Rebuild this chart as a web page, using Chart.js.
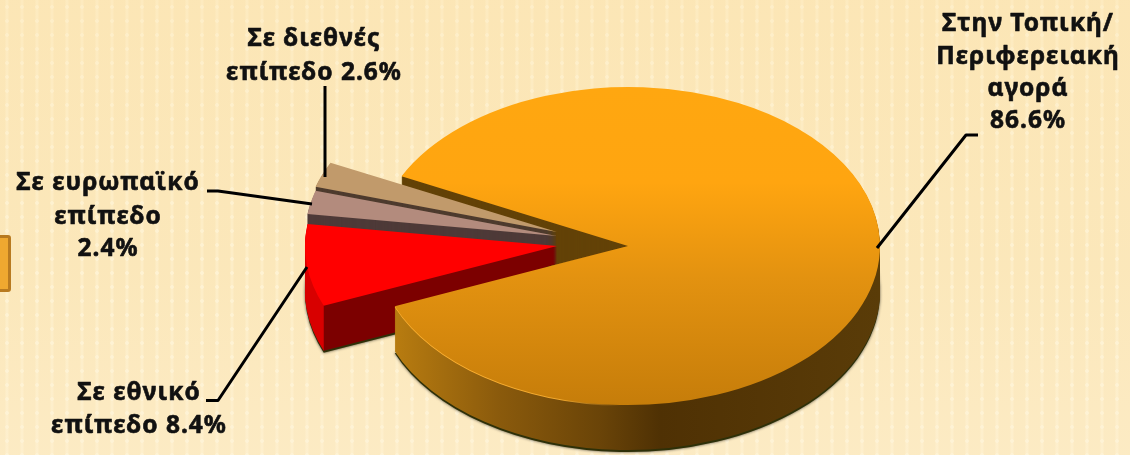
<!DOCTYPE html>
<html lang="el">
<head>
<meta charset="utf-8">
<title>Αγορές</title>
<script src="https://cdn.jsdelivr.net/npm/chart.js@4/dist/chart.umd.min.js"></script>
<style>
html,body{margin:0;padding:0;width:1130px;height:455px;overflow:hidden;}
body{
  position:relative;
  background-color:#FBE8BC;
  background-image:
    linear-gradient(180deg,rgba(253,226,170,.35) 0%,rgba(253,226,170,.1) 60%,rgba(255,240,210,.35) 100%),
    radial-gradient(circle at 7px 7px,rgba(255,248,225,.6) 0 1.5px,rgba(255,248,225,0) 2.2px),
    linear-gradient(90deg,rgba(255,244,215,0) 0 5px,rgba(255,244,215,.5) 6px 8px,rgba(255,244,215,0) 9px 15px);
  background-size:100% 100%,15px 14px,15px 14px;
}
#tab{position:absolute;left:-3px;top:235px;width:8px;height:51px;background:#EFA830;border:3px solid #B87A20;border-radius:3px;}
canvas{position:absolute;left:0;top:0;}
</style>
</head>
<body>
<div id="tab"></div>
<canvas id="c" width="1130" height="455"></canvas>
<script>
const categories = ['Στην Τοπική/Περιφερειακή αγορά','Σε εθνικό επίπεδο','Σε ευρωπαϊκό επίπεδο','Σε διεθνές επίπεδο'];
const values = [86.6, 8.4, 2.4, 2.6];
const faceColors = ['#FFA710', '#FF0000', '#B38B7D', '#C19A6B'];
const wallColors = ['#634207', '#7C0000', '#4E3A38', '#4E3B2E'];
const labelLines = [
  ['Στην Τοπική/', 'Περιφερειακή', 'αγορά', '86.6%'],
  ['Σε εθνικό', 'επίπεδο 8.4%'],
  ['Σε ευρωπαϊκό', 'επίπεδο', '2.4%'],
  ['Σε διεθνές', 'επίπεδο 2.6%']
];

// Projection of the flat pie into the tilted, exploded view.
const RX = [252, 252, 252, 252];
const RY = [159, 158, 158, 158];
const CX = [628, 557, 557, 557];
const CY = [246, 246, 236, 232];
const DEPTH = 45;
const labelPos = [
  {x:1028, ys:[31,64,96,128]},
  {x:139,  ys:[400,433]},
  {x:108,  ys:[190,224,256]},
  {x:314,  ys:[46,80]}
];
const leaders = [
  [[877,248],[966,135],[978,135]],
  [[206,400.5],[218,400.5],[307,267]],
  [[207,191],[218,191],[312,204]],
  [[325,86],[325,177]]
];

function paint(ctx, arc, i, dy, color) {
  const R = arc.outerRadius;
  ctx.save();
  ctx.translate(CX[i], CY[i] + dy);
  ctx.scale(RX[i] / R, RY[i] / R);
  ctx.translate(-arc.x, -arc.y);
  const ghost = Object.create(arc);
  ghost.options = Object.assign({}, arc.options, {backgroundColor: color, borderColor: color, borderWidth: 0, offset: 0, spacing: 0});
  Chart.ArcElement.prototype.draw.call(ghost, ctx);
  ctx.restore();
}
function xGradient(ctx, arc, i, stops) {
  const R = arc.outerRadius, g = ctx.createLinearGradient(arc.x - R, 0, arc.x + R, 0);
  const left = CX[i] - RX[i], w = 2 * RX[i];
  stops.forEach(s => g.addColorStop(Math.min(1, Math.max(0, (s[0] - left) / w)), s[1]));
  return g;
}
function clipPoly(ctx, pts) {
  ctx.beginPath();
  pts.forEach((p, k) => k ? ctx.lineTo(p[0], p[1]) : ctx.moveTo(p[0], p[1]));
  ctx.closePath();
  ctx.clip();
}

const pie3d = {
  id: 'pie3d',
  beforeDatasetsDraw(chart) {
    const ctx = chart.ctx, arcs = chart.getDatasetMeta(0).data;
    const big = arcs[0], R = big.outerRadius;
    // lower cut edge of the large slice, extended to the left border
    const a = big.endAngle, tip = [CX[0], CY[0]];
    const edge = [tip[0] + RX[0] * Math.cos(a), tip[1] + RY[0] * Math.sin(a)];
    const slope = (edge[1] - tip[1]) / (edge[0] - tip[0]);
    const far = [0, tip[1] - slope * tip[0]];

    // inner wall of the large slice (behind the small ones)
    ctx.save();
    clipPoly(ctx, [tip, far, [0, 0], [tip[0], 0]]);
    for (let d = DEPTH; d > 0; d--) paint(ctx, big, 0, d, wallColors[0]);
    ctx.restore();

    // small slices, back to front
    [3, 2, 1].forEach(i => {
      const arc = arcs[i];
      let wall = wallColors[i];
      if (i === 1) {
        const cornerX = CX[1] + RX[1] * Math.cos(arc.startAngle);
        wall = xGradient(ctx, arc, 1, [[cornerX - 0.5, '#D80000'], [cornerX + 0.5, wallColors[1]]]);
        ctx.save();
        ctx.shadowColor = 'rgba(0,0,0,.7)';
        ctx.shadowBlur = 3;
        paint(ctx, arc, i, DEPTH + 2, '#2E3008');
        ctx.restore();
      }
      for (let d = DEPTH; d > 0; d--) paint(ctx, arc, i, d, wall);
      paint(ctx, arc, i, 0, faceColors[i]);
    });

    // outer wall of the large slice
    const sideFill = xGradient(ctx, big, 0, [[395,'#B87C10'],[500,'#8A5A0C'],[600,'#6A4408'],[660,'#4F3104'],[880,'#5A3C08']]);
    ctx.save();
    clipPoly(ctx, [tip, far, [0, 455], [1130, 455], [1130, 0], [tip[0], 0]]);
    ctx.save();
    ctx.shadowColor = 'rgba(0,0,0,.7)';
    ctx.shadowBlur = 3;
    paint(ctx, big, 0, DEPTH + 2, '#2E3008');
    ctx.restore();
    for (let d = DEPTH; d > 0; d--) paint(ctx, big, 0, d, sideFill);
    // light rim along the front-left edge
    paint(ctx, big, 0, 1, xGradient(ctx, big, 0, [[395,'rgba(255,178,50,1)'],[560,'rgba(255,178,50,.9)'],[620,'rgba(255,178,50,0)']]));
    ctx.restore();

    // top face of the large slice
    const g = ctx.createLinearGradient(0, big.y - R, 0, big.y + R);
    g.addColorStop(0, '#FFA710');
    g.addColorStop(0.3, '#FFA510');
    g.addColorStop(0.6, '#E39210');
    g.addColorStop(1, '#C67D0A');
    paint(ctx, big, 0, 0, g);
    return false;
  },
  afterDraw(chart) {
    const ctx = chart.ctx;
    ctx.save();
    ctx.strokeStyle = '#000';
    ctx.lineWidth = 3;
    ctx.lineJoin = 'round';
    leaders.forEach(l => {
      ctx.beginPath();
      l.forEach((p, k) => k ? ctx.lineTo(p[0], p[1]) : ctx.moveTo(p[0], p[1]));
      ctx.stroke();
    });
    ctx.fillStyle = '#111';
    ctx.strokeStyle = '#111';
    ctx.lineWidth = 0.6;
    ctx.font = 'bold 24.5px "Noto Sans"';
    ctx.letterSpacing = '1px';
    ctx.textAlign = 'center';
    ctx.textBaseline = 'alphabetic';
    labelLines.forEach((lines, i) => {
      lines.forEach((t, k) => {
        ctx.fillText(t, labelPos[i].x, labelPos[i].ys[k]);
        ctx.strokeText(t, labelPos[i].x, labelPos[i].ys[k]);
      });
    });
    ctx.restore();
  }
};

new Chart(document.getElementById('c'), {
  type: 'pie',
  data: {
    labels: categories,
    datasets: [{data: values, backgroundColor: faceColors, borderWidth: 0}]
  },
  options: {
    responsive: false,
    animation: false,
    rotation: 296,
    radius: 200,
    events: [],
    plugins: {legend: {display: false}, tooltip: {enabled: false}}
  },
  plugins: [pie3d]
});
</script>
</body>
</html>
